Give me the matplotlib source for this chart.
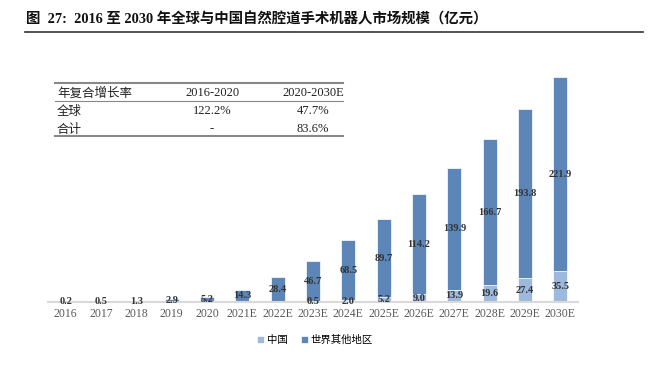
import matplotlib
matplotlib.use('Agg')
import matplotlib.pyplot as plt
from matplotlib.lines import Line2D
import numpy as np

# 数据
years = ['2016', '2017', '2018', '2019', '2020', '2021E', '2022E', '2023E',
         '2024E', '2025E', '2026E', '2027E', '2028E', '2029E', '2030E']
china = [0, 0, 0, 0, 0, 0, 0, 0.5, 2.0, 5.2, 9.0, 13.9, 19.6, 27.4, 35.5]
rest = [0.2, 0.5, 1.3, 2.9, 5.2, 14.3, 28.4, 46.7, 68.5, 89.7, 114.2, 139.9,
        166.7, 193.8, 221.9]

table_header = ['年复合增长率', '2016-2020', '2020-2030E']
table_rows = [['全球', '122.2%', '47.7%'],
              ['合计', '-', '83.6%']]

title = '图  27:  2016 至 2030 年全球与中国自然腔道手术机器人市场规模（亿元）'

serif = ['Liberation Serif', 'Noto Sans CJK SC']
cjk = ['Noto Sans CJK SC', 'DejaVu Sans']

c_china = '#9DB9DD'
c_rest = '#5B86B7'

W, H = 658, 383
fig = plt.figure(figsize=(W / 100, H / 100), dpi=100)

def fx(px):
    return px / W

def fy(py):
    return 1 - py / H

ax = fig.add_axes([fx(48), fy(302), fx(578) - fx(48), fy(40) - fy(302)])
x = np.arange(len(years))
b1 = ax.bar(x, china, width=0.4, color=c_china, edgecolor='white', linewidth=0.5, label='中国')
b2 = ax.bar(x, rest, width=0.4, bottom=china, color=c_rest, edgecolor='white', linewidth=0.5,
            label='世界其他地区')

ax.bar_label(b1, labels=[f'{v:.1f}' if v > 0 else '' for v in china], label_type='center',
             fontsize=7.5, fontweight='bold', family='Liberation Serif', color='#333333')
ax.bar_label(b2, labels=[f'{v:.1f}' for v in rest], label_type='center',
             fontsize=7.5, fontweight='bold', family='Liberation Serif', color='#333333')

ax.set_xlim(-0.5, len(years) - 0.5)
ax.set_ylim(0, 300)
ax.set_xticks(x)
ax.set_xticklabels(years, family='Liberation Serif', fontsize=8.5, color='#595959')
ax.tick_params(axis='x', length=0, pad=4)
ax.set_yticks([])
for s in ['top', 'right', 'left']:
    ax.spines[s].set_visible(False)
ax.spines['bottom'].set_color('#D9D9D9')
ax.spines['bottom'].set_linewidth(1.5)

fig.legend(handles=[b1, b2], loc='center', bbox_to_anchor=(fx(315), fy(340)), ncol=2,
           frameon=False, prop={'family': cjk, 'size': 7.5}, handlelength=0.7,
           handleheight=0.7, handletextpad=0.3, columnspacing=1.2)

# 标题
fig.text(fx(26), fy(19), title, family=serif, fontsize=10.4, fontweight='bold',
         va='center', ha='left', color='#111111')
fig.add_artist(Line2D([fx(25), fx(643)], [fy(32), fy(32)], color='#333333', lw=1.2))

# 表格
tl, tr = 55, 343
fig.add_artist(Line2D([fx(tl), fx(tr)], [fy(83), fy(83)], color='#888888', lw=1.5))
fig.add_artist(Line2D([fx(tl), fx(tr)], [fy(101), fy(101)], color='#888888', lw=0.8))
fig.add_artist(Line2D([fx(tl), fx(tr)], [fy(136), fy(136)], color='#888888', lw=1.5))
row_y = [93, 111, 129]
col_x = [57, 212, 313]
for r, row in enumerate([table_header] + table_rows):
    for c, txt in enumerate(row):
        fam = cjk if c == 0 else serif
        fig.text(fx(col_x[c]), fy(row_y[r]), txt, family=fam, fontsize=9,
                 ha='left' if c == 0 else 'center', va='center', color='#222222')

fig.savefig('out.png', dpi=100)
